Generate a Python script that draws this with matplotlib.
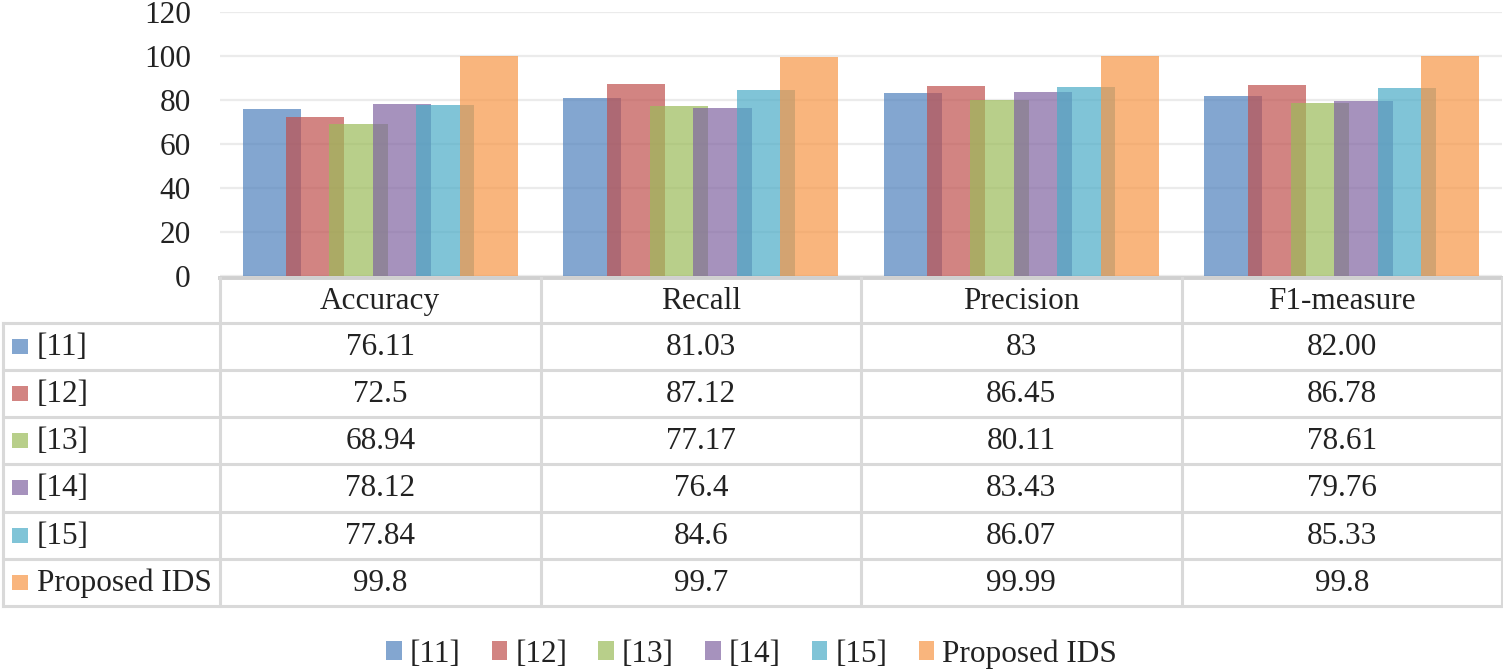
import matplotlib.pyplot as plt
from matplotlib.patches import Rectangle

plt.rcParams['font.family'] = ['Liberation Serif', 'DejaVu Serif']

metrics = ['Accuracy', 'Recall', 'Precision', 'F1-measure']
methods = ['[11]', '[12]', '[13]', '[14]', '[15]', 'Proposed IDS']
# table texts as printed, bars use the float of them
acc_txt = ['76.11', '72.5', '68.94', '78.12', '77.84', '99.8']
rec_txt = ['81.03', '87.12', '77.17', '76.4', '84.6', '99.7']
pre_txt = ['83', '86.45', '80.11', '83.43', '86.07', '99.99']
f1_txt = ['82.00', '86.78', '78.61', '79.76', '85.33', '99.8']
colors = ['#4F81BD', '#C0504D', '#9BBB59', '#8064A2', '#4BACC6', '#F79646']
yticks = [0, 20, 40, 60, 80, 100, 120]

columns = [acc_txt, rec_txt, pre_txt, f1_txt]

W, H = 1503, 669
fig = plt.figure(figsize=(W / 100, H / 100), dpi=100)

# bar area
x0, x1 = 220, 1502
ytop, ybot = 12, 276
ax = fig.add_axes([x0 / W, 1 - ybot / H, (x1 - x0) / W, (ybot - ytop) / H])
ax.set_xlim(-0.5, len(metrics) - 0.5)
ax.set_ylim(0, 120)

step = 0.1357
bw = 0.181
bars = []
for i, m in enumerate(methods):
    vals = [float(col[i]) for col in columns]
    xs = [k + (i - 2.5) * step for k in range(len(metrics))]
    b = ax.bar(xs, vals, width=bw, color=colors[i], alpha=0.7, label=m, zorder=2 + i)
    bars.append(b)

ax.set_yticks(yticks)
ax.tick_params(axis='y', length=0, pad=21, labelsize=22.5, labelcolor='#222222')
ax.set_xticks([])
ax.grid(axis='y', color='#ebebeb', linewidth=1.6, zorder=0)
for s in ax.spines.values():
    s.set_visible(False)

# data table drawn underneath
tab = fig.add_axes([0, 0, 1, 1], zorder=-1)
tab.set_xlim(0, W)
tab.set_ylim(H, 0)
tab.axis('off')

col_x = [3, 220, 540.5, 861, 1181.5, 1502]
row_y = [278, 323, 370, 417, 464, 512, 559, 606]
lc = '#d9d9d9'
lw = 2.2
# horizontal lines
tab.plot([col_x[1], col_x[-1]], [row_y[0], row_y[0]], color='#d0d0d0', lw=2.8)
for y in row_y[1:]:
    tab.plot([col_x[0], col_x[-1]], [y, y], color=lc, lw=lw)
# vertical lines
tab.plot([col_x[0], col_x[0]], [row_y[1], row_y[-1]], color=lc, lw=lw)
for x in col_x[1:]:
    tab.plot([x, x], [row_y[0], row_y[-1]], color=lc, lw=lw)

fs = 22.5
for k, m in enumerate(metrics):
    cx = (col_x[k + 1] + col_x[k + 2]) / 2
    tab.text(cx, (row_y[0] + row_y[1]) / 2 + 1, m, ha='center', va='center',
             fontsize=fs, color='#222222')
for i, m in enumerate(methods):
    cy = (row_y[i + 1] + row_y[i + 2]) / 2
    tab.add_patch(Rectangle((12, cy - 8), 16, 15, color=colors[i], alpha=0.7, lw=0))
    tab.text(37, cy + 1, m, ha='left', va='center', fontsize=fs, color='#222222')
    for k, col in enumerate(columns):
        cx = (col_x[k + 1] + col_x[k + 2]) / 2
        tab.text(cx, cy + 1, col[i], ha='center', va='center', fontsize=fs, color='#222222')

fig.legend(handles=bars, labels=methods, loc='center', bbox_to_anchor=(0.5, 1 - 654 / H),
           ncol=6, frameon=False, fontsize=fs, handlelength=0.5, handleheight=0.55,
           handletextpad=0.25, columnspacing=1.0, labelcolor='#222222')

fig.savefig('out.png', dpi=100)
